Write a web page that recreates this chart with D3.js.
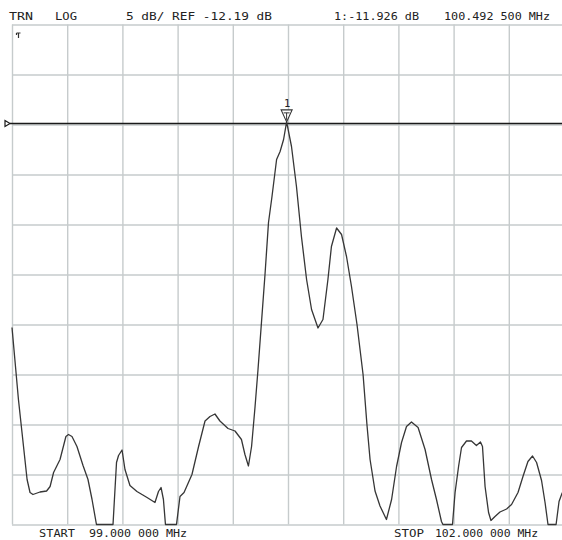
<!DOCTYPE html>
<html>
<head>
<meta charset="utf-8">
<script src="https://cdn.jsdelivr.net/npm/d3@7"></script>
<style>
  html, body { margin: 0; padding: 0; background: #ffffff; }
  svg { display: block; }
  text { font-family: "DejaVu Sans Mono", "Liberation Mono", monospace; fill: #222; }
</style>
</head>
<body>
<svg id="chart" width="562" height="540"></svg>
<script>
// ---- data ----
const freqMHz = [
  99.000, 99.035, 99.082, 99.098, 99.114, 99.152, 99.188, 99.207, 99.226, 99.261,
  99.293, 99.307, 99.326, 99.353, 99.386, 99.413, 99.435, 99.459, 99.549, 99.568,
  99.579, 99.598, 99.614, 99.641, 99.679, 99.734, 99.777, 99.796, 99.810, 99.823,
  99.834, 99.894, 99.913, 99.935, 99.978, 100.014, 100.049, 100.076, 100.103, 100.130,
  100.174, 100.212, 100.247, 100.266, 100.285, 100.302, 100.321, 100.337, 100.353, 100.375,
  100.394, 100.413, 100.438, 100.457, 100.476, 100.4925, 100.519, 100.546, 100.573, 100.601,
  100.628, 100.663, 100.690, 100.717, 100.736, 100.764, 100.791, 100.818, 100.845, 100.875,
  100.908, 100.929, 100.946, 100.973, 101.000, 101.035, 101.063, 101.090, 101.117, 101.144,
  101.171, 101.207, 101.245, 101.280, 101.307, 101.334, 101.342, 101.394, 101.408, 101.427,
  101.443, 101.470, 101.497, 101.524, 101.546, 101.557, 101.571, 101.590, 101.603, 101.625,
  101.652, 101.688, 101.715, 101.750, 101.777, 101.804, 101.829, 101.851, 101.878, 101.897,
  101.913, 101.957, 101.973, 101.989, 102.000
];
const levelDb = [
  -32.49, -39.69, -47.69, -48.99, -49.19, -48.94, -48.84, -48.39, -46.99, -45.69,
  -43.39, -43.19, -43.39, -44.39, -46.29, -47.69, -49.69, -52.19, -52.19, -45.99,
  -45.29, -44.74, -46.69, -48.29, -48.89, -49.49, -49.99, -48.89, -48.49, -49.69,
  -52.19, -52.19, -49.39, -48.99, -47.19, -44.39, -41.84, -41.39, -41.14, -41.84,
  -42.59, -42.84, -43.69, -45.19, -46.34, -44.39, -40.39, -36.69, -32.69, -27.19,
  -21.99, -19.39, -15.69, -14.89, -13.69, -11.926, -14.39, -18.39, -23.39, -27.69,
  -30.69, -32.54, -31.69, -27.69, -24.39, -22.54, -23.19, -25.39, -28.39, -32.19,
  -37.19, -42.19, -45.69, -48.84, -50.34, -51.69, -49.69, -46.39, -43.99, -42.39,
  -41.94, -42.49, -44.69, -47.69, -49.69, -51.89, -52.19, -52.19, -48.99, -46.39,
  -44.49, -43.84, -43.84, -44.29, -43.94, -44.39, -48.39, -50.99, -51.79, -51.39,
  -50.94, -50.64, -50.19, -48.99, -47.39, -45.89, -45.34, -45.99, -47.79, -49.99,
  -52.19, -52.19, -49.89, -49.09, -48.69
];
const freqGrid = [99.0, 99.3, 99.6, 99.9, 100.2, 100.5, 100.8, 101.1, 101.4, 101.7, 102.0];
const dbGrid = [-2.19, -7.19, -12.19, -17.19, -22.19, -27.19, -32.19, -37.19, -42.19, -47.19, -52.19];
const refLevelDb = -12.19;
const marker = { label: "1", freq: 100.4925, db: -11.926 };
const headerTexts = ["TRN", "LOG", "5 dB/ REF -12.19 dB", "1:-11.926 dB", "100.492 500 MHz"];
const footerTexts = ["START", "99.000 000 MHz", "STOP", "102.000 000 MHz"];

// ---- layout ----
const plot = { left: 12, top: 24.5, width: 552, height: 500 };
const svg = d3.select("#chart");

const x = d3.scaleLinear().domain([freqGrid[0], freqGrid[freqGrid.length - 1]])
  .range([plot.left, plot.left + plot.width]);
const y = d3.scaleLinear().domain([dbGrid[dbGrid.length - 1], dbGrid[0]])
  .range([plot.top + plot.height, plot.top]).clamp(true);

const gridColor = "#c6cbcc";

// vertical grid lines
svg.append("g")
  .attr("transform", `translate(0,${plot.top})`)
  .call(d3.axisBottom(x).tickValues(freqGrid).tickSize(plot.height).tickFormat(""))
  .call(g => g.select(".domain").remove())
  .call(g => g.selectAll("line").attr("stroke", gridColor).attr("stroke-width", 1.4));

// horizontal grid lines
svg.append("g")
  .attr("transform", `translate(${plot.left},0)`)
  .call(d3.axisRight(y).tickValues(dbGrid).tickSize(plot.width).tickFormat(""))
  .call(g => g.select(".domain").remove())
  .call(g => g.selectAll("line").attr("stroke", gridColor).attr("stroke-width", 1.4));

// reference line
const yRef = y(refLevelDb) - 1;
svg.append("line")
  .attr("x1", 10).attr("x2", 562)
  .attr("y1", yRef).attr("y2", yRef)
  .attr("stroke", "#1a1a1a").attr("stroke-width", 1.5);
svg.append("path")
  .attr("d", `M5,${yRef - 3} L10,${yRef} L5,${yRef + 3} Z`)
  .attr("fill", "#fff").attr("stroke", "#1a1a1a").attr("stroke-width", 1.2);

// trace
const data = freqMHz.map((f, i) => ({ f, v: levelDb[i] }));
svg.append("path")
  .datum(data)
  .attr("fill", "none")
  .attr("stroke", "#363636")
  .attr("stroke-width", 1.3)
  .attr("stroke-linejoin", "round")
  .attr("d", d3.line().x(d => x(d.f)).y(d => y(d.v)));

// marker
const mx = x(marker.freq), my = y(marker.db);
svg.append("path")
  .attr("d", `M${mx},${my} L${mx - 5.5},${my - 12} L${mx + 5.5},${my - 12} Z`)
  .attr("fill", "#fff").attr("stroke", "#333").attr("stroke-width", 1.1);
svg.append("path")
  .attr("d", `M${mx - 3},${my - 9} L${mx + 3},${my - 9} M${mx},${my - 9} L${mx},${my - 2}`)
  .attr("stroke", "#333").attr("stroke-width", 1);
svg.append("text")
  .attr("x", mx + 0.5).attr("y", my - 15)
  .attr("text-anchor", "middle")
  .attr("font-size", 10.5)
  .text(marker.label);

// small symbol top-left
svg.append("path")
  .attr("d", "M16.5,33 L20.5,33 M18.5,33 L18.5,38 M16.5,33 L16.5,35")
  .attr("stroke", "#333").attr("stroke-width", 1.2).attr("fill", "none");

// header texts
const headerPos = [[9, 24], [55, 22], [126, 146], [334, 85], [444, 106]];
svg.selectAll("text.hdr").data(headerTexts).enter().append("text")
  .attr("class", "hdr")
  .attr("x", (d, i) => headerPos[i][0]).attr("y", 20)
  .attr("font-size", 11)
  .attr("textLength", (d, i) => headerPos[i][1])
  .attr("lengthAdjust", "spacingAndGlyphs")
  .text(d => d);

// footer texts
const footerPos = [[39, 36], [89, 98], [394, 30], [435, 103]];
svg.selectAll("text.ftr").data(footerTexts).enter().append("text")
  .attr("class", "ftr")
  .attr("x", (d, i) => footerPos[i][0]).attr("y", 537)
  .attr("font-size", 10.5)
  .attr("textLength", (d, i) => footerPos[i][1])
  .attr("lengthAdjust", "spacingAndGlyphs")
  .text(d => d);
</script>
</body>
</html>
